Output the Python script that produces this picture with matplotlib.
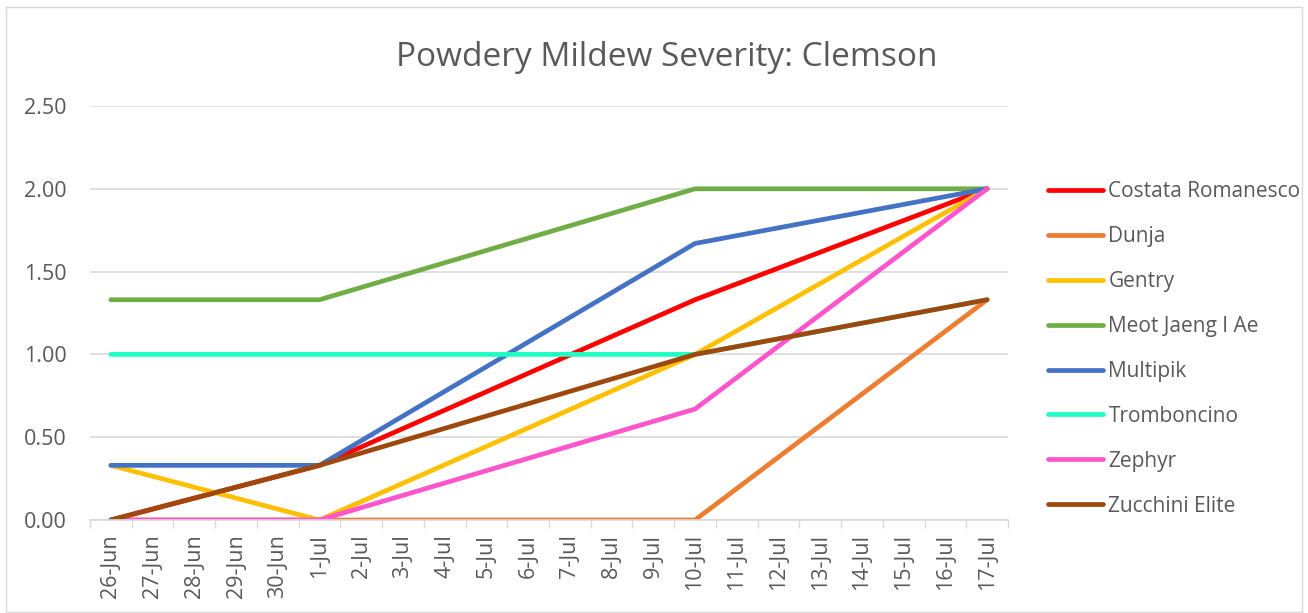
import matplotlib
matplotlib.use("Agg")
import matplotlib.pyplot as plt
import pandas as pd
from matplotlib.patches import Rectangle

plt.rcParams['font.family'] = ['Open Sans', 'DejaVu Sans']

dates = ["2021-06-26", "2021-07-01", "2021-07-10", "2021-07-17"]
axis_start = "2021-06-26"
axis_end = "2021-07-17"

series_names = ["Costata Romanesco", "Dunja", "Gentry", "Meot Jaeng I Ae",
                "Multipik", "Tromboncino", "Zephyr", "Zucchini Elite"]
costata = [0.0, 0.33, 1.33, 2.0]
dunja = [0.0, 0.0, 0.0, 1.33]
gentry = [0.33, 0.0, 1.0, 2.0]
meot = [1.33, 1.33, 2.0, 2.0]
multipik = [0.33, 0.33, 1.67, 2.0]
tromboncino = [1.0, 1.0, 1.0, 1.33]
zephyr = [0.0, 0.0, 0.67, 2.0]
zucchini = [0.0, 0.33, 1.0, 1.33]
values = [costata, dunja, gentry, meot, multipik, tromboncino, zephyr, zucchini]
colors = ["#FF0000", "#ED7D31", "#FFC000", "#70AD47", "#4472C4", "#1EFFC3", "#FF55CC", "#9E480E"]

start = pd.Timestamp(axis_start)
x = [(pd.Timestamp(d) - start).days for d in dates]
all_days = pd.date_range(axis_start, axis_end, freq="D")
tick_pos = list(range(len(all_days)))
tick_labels = [f"{d.day}-{d.strftime('%b')}" for d in all_days]

W, H = 1308, 613
fig = plt.figure(figsize=(W / 100, H / 100), dpi=100)
fig.patches.append(Rectangle((6 / W, 1 - 612 / H), (1302 - 6) / W, (612 - 7) / H,
                             transform=fig.transFigure, fill=False,
                             edgecolor="#D9D9D9", linewidth=1.0))

ax = fig.add_axes([90 / W, 1 - 520 / H, (1008 - 90) / W, (520 - 106) / H])

for name, v, c in zip(series_names, values, colors):
    ax.plot(x, v, color=c, linewidth=3.4, label=name, solid_capstyle="round",
            solid_joinstyle="round")

ax.set_xlim(-0.5, len(all_days) - 0.5)
ax.set_ylim(0, 2.5)
yt = [0, 0.5, 1.0, 1.5, 2.0, 2.5]
ax.set_yticks(yt)
ax.set_yticklabels([f"{t:.2f}" for t in yt])
ax.set_xticks(tick_pos)
ax.set_xticklabels(tick_labels, rotation=90)
ax.set_xticks([p - 0.5 for p in tick_pos] + [len(all_days) - 0.5], minor=True)
ax.tick_params(axis="x", which="major", length=0, pad=10, labelsize=15.5, labelcolor="#595959")
ax.tick_params(axis="x", which="minor", length=6, color="#D9D9D9", width=1)
ax.tick_params(axis="y", length=0, pad=17, labelsize=15.5, labelcolor="#595959")

ax.grid(axis="y", color="#D9D9D9", linewidth=1.2)
ax.set_axisbelow(True)
for s in ["top", "right", "left"]:
    ax.spines[s].set_visible(False)
ax.spines["bottom"].set_color("#D9D9D9")
ax.spines["bottom"].set_linewidth(1.2)

fig.text(667 / W, 1 - 66 / H, "Powdery Mildew Severity: Clemson", ha="center", va="baseline",
         fontsize=24, color="#595959")

leg = ax.legend(loc="upper left", bbox_to_anchor=(1048 / W, 1 - 181 / H),
                bbox_transform=fig.transFigure, frameon=False, fontsize=15,
                labelcolor="#595959", handlelength=2.65, handletextpad=0.25,
                labelspacing=1.15, borderaxespad=0, borderpad=0)

fig.savefig("out.png", dpi=100)
